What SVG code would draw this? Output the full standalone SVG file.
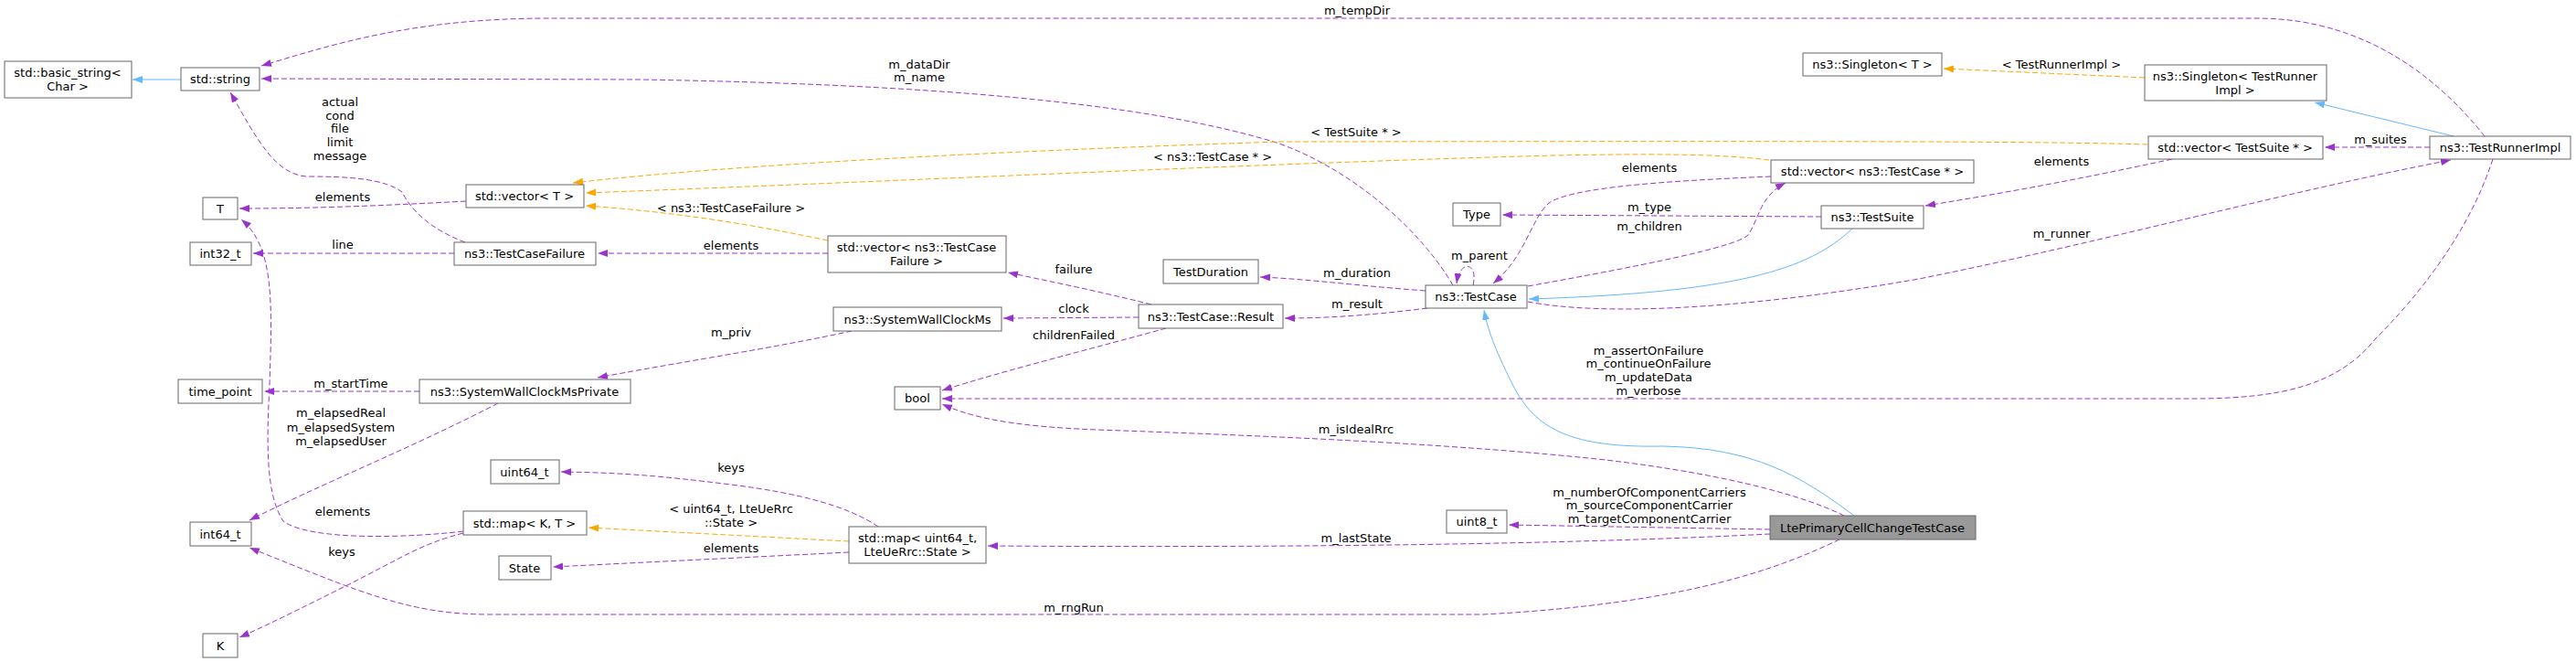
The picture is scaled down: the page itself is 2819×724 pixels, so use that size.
<svg xmlns="http://www.w3.org/2000/svg" width="2819" height="724" viewBox="0 0 2819 724">
<style>
.n rect{fill:#fff;stroke:#666;stroke-width:1}
.n text,.l{font-family:"DejaVu Sans",sans-serif;font-size:13px;fill:#000;text-anchor:middle}
.u{fill:none;stroke:#9a32cd;stroke-width:1;stroke-dasharray:6,3;marker-end:url(#ap)}
.t{fill:none;stroke:#ffa500;stroke-width:1;stroke-dasharray:6,3;marker-end:url(#ao)}
.i{fill:none;stroke:#63b8ff;stroke-width:1;marker-end:url(#ab)}
</style>
<defs>
<marker id="ap" markerUnits="userSpaceOnUse" markerWidth="12" markerHeight="9" refX="11" refY="4" orient="auto"><path d="M0,0L11,4L0,8z" fill="#9a32cd"/></marker>
<marker id="ao" markerUnits="userSpaceOnUse" markerWidth="12" markerHeight="9" refX="11" refY="4" orient="auto"><path d="M0,0L11,4L0,8z" fill="#ffa500"/></marker>
<marker id="ab" markerUnits="userSpaceOnUse" markerWidth="12" markerHeight="9" refX="11" refY="4" orient="auto"><path d="M0,0L11,4L0,8z" fill="#63b8ff"/></marker>
</defs>
<rect width="2819" height="724" fill="#fff"/>
<g id="edges">
<path class="u" d="M2719,149 C2680,100 2600,20 2470,20 L600,20 C450,20 360,50 286,72"/>
<path class="u" d="M1590,312 C1560,260 1490,190 1400,157 C1250,110 1000,92 700,87 L286,86"/>
<path class="i" d="M198,87 L145,87"/>
<path class="u" d="M510,220 C400,226 330,228 262,228"/>
<path class="u" d="M509,265 C470,250 450,230 440,210 C420,195 380,193 335,193 C300,190 280,150 252,101"/>
<path class="u" d="M497,277 L277,277"/>
<path class="u" d="M507,581 C450,588 340,592 310,570 C290,540 292,480 295,420 C298,330 300,270 264,240"/>
<path class="u" d="M459,428 L289,428"/>
<path class="u" d="M545,441 C450,490 350,530 273,569"/>
<path class="u" d="M507,583 C460,595 440,610 380,640 C330,665 290,685 262,697"/>
<path class="u" d="M961,576 C930,555 880,540 800,530 C720,520 680,517 614,516"/>
<path class="t" d="M929,592 L644,577"/>
<path class="u" d="M929,604 L605,620"/>
<path class="t" d="M906,263 C820,245 740,232 641,225"/>
<path class="u" d="M906,277 L654,277"/>
<path class="t" d="M1936,175 C1880,168 1802,168 1700,170 C1400,178 1012,197 641,211"/>
<path class="t" d="M2350,158 C2250,155 2100,154 1400,155 C1100,165 800,180 627,200"/>
<path class="t" d="M2347,85 L2127,75"/>
<path class="i" d="M2685,149 L2533,112"/>
<path class="u" d="M2659,161 L2544,161"/>
<path class="u" d="M2377,174 C2280,195 2200,210 2107,225"/>
<path class="u" d="M1672,330 C1750,345 1900,340 2100,305 C2300,265 2500,210 2682,175"/>
<path class="i" d="M2027,250 C1980,295 1900,320 1673,327"/>
<path class="u" d="M1993,237 L1644,235"/>
<path class="u" d="M1938,193 C1820,198 1720,205 1695,222 C1675,240 1670,280 1634,310"/>
<path class="u" d="M1672,313 C1800,290 1900,270 1913,257 C1925,240 1925,215 1954,200"/>
<path class="u" d="M1612,312 C1618,288 1598,282 1594,310"/>
<path class="u" d="M1560,318 C1480,312 1430,305 1379,303"/>
<path class="u" d="M1562,337 C1500,345 1450,348 1406,348"/>
<path class="u" d="M1260,333 C1200,318 1150,308 1103,298"/>
<path class="u" d="M1246,347 L1098,348"/>
<path class="u" d="M1276,359 C1200,380 1100,405 1031,427"/>
<path class="u" d="M932,362 C850,380 750,395 654,413"/>
<path class="u" d="M2728,174 C2700,260 2640,330 2600,370 C2560,420 2500,436 2400,436 L1031,436"/>
<path class="i" d="M2029,564 C1970,520 1920,490 1820,488 C1720,490 1680,470 1655,420 C1635,380 1628,360 1624,339"/>
<path class="u" d="M2018,564 C1980,545 1900,520 1757,503 C1600,486 1400,477 1200,470 C1100,466 1060,455 1031,442"/>
<path class="u" d="M1937,579 L1651,574"/>
<path class="u" d="M1937,584 C1700,596 1400,599 1081,597"/>
<path class="u" d="M2013,590 C1950,620 1850,660 1623,672 L536,672 C450,672 400,650 273,599"/>
</g>
<g class="l">
<text x="1485" y="16">m_tempDir</text>
<text x="1006" y="75">m_dataDir</text><text x="1006" y="89">m_name</text>
<text x="372" y="116">actual</text><text x="372" y="131">cond</text><text x="372" y="145">file</text><text x="372" y="160">limit</text><text x="372" y="175">message</text>
<text x="375" y="220">elements</text>
<text x="375" y="272">line</text>
<text x="375" y="564">elements</text>
<text x="384" y="424">m_startTime</text>
<text x="373" y="456">m_elapsedReal</text><text x="373" y="472">m_elapsedSystem</text><text x="373" y="487">m_elapsedUser</text>
<text x="374" y="608">keys</text>
<text x="800" y="516">keys</text>
<text x="800" y="561">&lt; uint64_t, LteUeRrc</text><text x="800" y="576">::State &gt;</text>
<text x="800" y="604">elements</text>
<text x="800" y="232">&lt; ns3::TestCaseFailure &gt;</text>
<text x="800" y="273">elements</text>
<text x="1327" y="176">&lt; ns3::TestCase * &gt;</text>
<text x="1484" y="149">&lt; TestSuite * &gt;</text>
<text x="2256" y="75">&lt; TestRunnerImpl &gt;</text>
<text x="2605" y="157">m_suites</text>
<text x="2256" y="181">elements</text>
<text x="2256" y="260">m_runner</text>
<text x="1805" y="231">m_type</text>
<text x="1805" y="188">elements</text>
<text x="1805" y="252">m_children</text>
<text x="1619" y="284">m_parent</text>
<text x="1485" y="303">m_duration</text>
<text x="1485" y="337">m_result</text>
<text x="1175" y="299">failure</text>
<text x="1175" y="342">clock</text>
<text x="1175" y="371">childrenFailed</text>
<text x="800" y="368">m_priv</text>
<text x="1804" y="388">m_assertOnFailure</text><text x="1804" y="402">m_continueOnFailure</text><text x="1804" y="417">m_updateData</text><text x="1804" y="432">m_verbose</text>
<text x="1484" y="474">m_isIdealRrc</text>
<text x="1805" y="543">m_numberOfComponentCarriers</text><text x="1805" y="557">m_sourceComponentCarrier</text><text x="1805" y="572">m_targetComponentCarrier</text>
<text x="1484" y="593">m_lastState</text>
<text x="1175" y="669">m_rngRun</text>
</g>
<g id="n_basic_string" class="n"><rect x="5" y="67" width="139" height="40"/><text x="74" y="84">std::basic_string&lt;</text><text x="74" y="99">Char &gt;</text></g>
<g id="n_string" class="n"><rect x="198" y="74" width="86" height="25"/><text x="241" y="91">std::string</text></g>
<g id="n_T" class="n"><rect x="222" y="216" width="38" height="24"/><text x="241" y="233">T</text></g>
<g id="n_int32" class="n"><rect x="208" y="265" width="67" height="25"/><text x="241" y="282">int32_t</text></g>
<g id="n_vectorT" class="n"><rect x="510" y="202" width="129" height="25"/><text x="574" y="219">std::vector&lt; T &gt;</text></g>
<g id="n_tcf" class="n"><rect x="497" y="265" width="155" height="25"/><text x="574" y="282">ns3::TestCaseFailure</text></g>
<g id="n_time_point" class="n"><rect x="195" y="415" width="92" height="26"/><text x="241" y="433">time_point</text></g>
<g id="n_swcmp" class="n"><rect x="459" y="415" width="231" height="26"/><text x="574" y="433">ns3::SystemWallClockMsPrivate</text></g>
<g id="n_uint64" class="n"><rect x="537" y="503" width="75" height="26"/><text x="574" y="521">uint64_t</text></g>
<g id="n_int64" class="n"><rect x="208" y="571" width="67" height="26"/><text x="241" y="589">int64_t</text></g>
<g id="n_mapKT" class="n"><rect x="507" y="559" width="135" height="26"/><text x="574" y="577">std::map&lt; K, T &gt;</text></g>
<g id="n_State" class="n"><rect x="546" y="608" width="57" height="26"/><text x="574" y="626">State</text></g>
<g id="n_K" class="n"><rect x="222" y="693" width="38" height="26"/><text x="241" y="711">K</text></g>
<g id="n_vec_tcf" class="n"><rect x="906" y="258" width="195" height="40"/><text x="1003" y="275">std::vector&lt; ns3::TestCase</text><text x="1003" y="290">Failure &gt;</text></g>
<g id="n_testduration" class="n"><rect x="1273" y="284" width="104" height="26"/><text x="1325" y="302">TestDuration</text></g>
<g id="n_result" class="n"><rect x="1246" y="333" width="158" height="26"/><text x="1325" y="351">ns3::TestCase::Result</text></g>
<g id="n_swcm" class="n"><rect x="912" y="336" width="184" height="26"/><text x="1004" y="354">ns3::SystemWallClockMs</text></g>
<g id="n_bool" class="n"><rect x="979" y="423" width="50" height="25"/><text x="1004" y="440">bool</text></g>
<g id="n_map_state" class="n"><rect x="929" y="576" width="150" height="40"/><text x="1004" y="593">std::map&lt; uint64_t,</text><text x="1004" y="608">LteUeRrc::State &gt;</text></g>
<g id="n_testcase" class="n"><rect x="1560" y="312" width="111" height="25"/><text x="1615" y="329">ns3::TestCase</text></g>
<g id="n_type" class="n"><rect x="1590" y="222" width="52" height="25"/><text x="1616" y="239">Type</text></g>
<g id="n_vec_tc" class="n"><rect x="1938" y="175" width="222" height="25"/><text x="2049" y="192">std::vector&lt; ns3::TestCase * &gt;</text></g>
<g id="n_testsuite" class="n"><rect x="1993" y="225" width="112" height="25"/><text x="2049" y="242">ns3::TestSuite</text></g>
<g id="n_singletonT" class="n"><rect x="1973" y="58" width="152" height="25"/><text x="2049" y="75">ns3::Singleton&lt; T &gt;</text></g>
<g id="n_singletonTRI" class="n"><rect x="2347" y="71" width="199" height="39"/><text x="2446" y="88">ns3::Singleton&lt; TestRunner</text><text x="2446" y="103">Impl &gt;</text></g>
<g id="n_vec_ts" class="n"><rect x="2351" y="149" width="191" height="25"/><text x="2446" y="166">std::vector&lt; TestSuite * &gt;</text></g>
<g id="n_tri" class="n"><rect x="2659" y="149" width="154" height="25"/><text x="2736" y="166">ns3::TestRunnerImpl</text></g>
<g id="n_uint8" class="n"><rect x="1583" y="558" width="66" height="25"/><text x="1616" y="575">uint8_t</text></g>
<g id="n_lte" class="n"><rect x="1937" y="564" width="225" height="26" style="fill:#999"/><text x="2049" y="582">LtePrimaryCellChangeTestCase</text></g>
</svg>
